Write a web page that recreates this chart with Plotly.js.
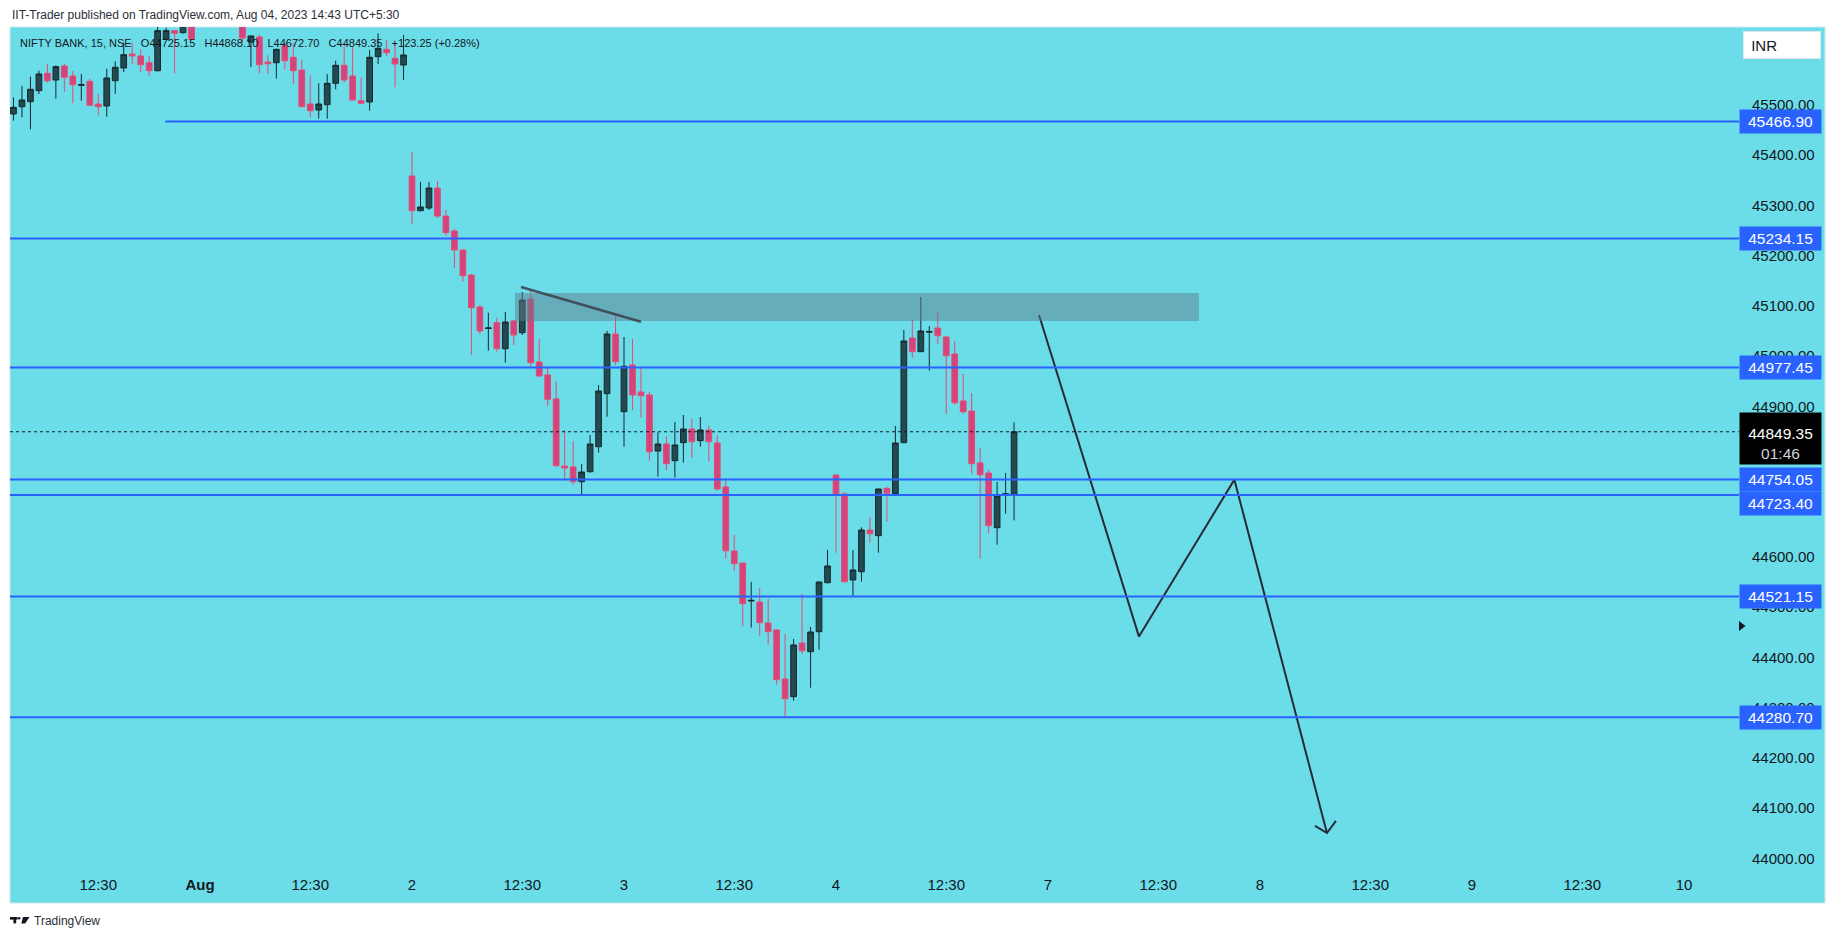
<!DOCTYPE html>
<html>
<head>
<meta charset="utf-8">
<script src="https://cdn.plot.ly/plotly-3.0.1.min.js"></script>
<style>
html,body{margin:0;padding:0;background:#ffffff;}
#chart{width:1835px;height:939px;}
</style>
</head>
<body>
<div id="chart"></div>
<script>
// ---------- DATA (NIFTY BANK, 15 min, NSE) ----------
// bar slots: Aug 1 09:15 = slot 0; first visible bar is Jul 31 10:00
const firstBar = -22;
const open = [
  45482.1,45496.6,45506.6,45528.5,45563.1,45549.8,45577.7,45557.7,45539.2,45547.2,
  45502.0,45498.0,45548.4,45573.7,45601.6,45597.6,45584.2,45568.3,45630.8,45648.0,
  45644.0,45675.0,
  45700,45760,45725,45705,45720,45672,45625.4,45635.4,45585.6,45584.2,
  45617.5,45595.0,45569.7,45502.0,45490.0,45500.6,45543.2,45579.1,45557.7,45508.6,
  45506.0,45596.2,45610.9,45593.0,45579.6,
  45358.6,45289.5,45294.9,45334.7,45278.9,45249.1,45211.3,45161.5,45097.8,45055.0,
  45066.5,45014.7,45069.9,45046.6,45113.7,44988.3,44962.4,44914.6,44781.2,44779.2,
  44749.9,44769.8,44819.6,44925.1,45044.0,
  44889.3,44982.3,44928.5,44922.6,44811.0,44824.9,44791.7,44827.6,44854.8,44831.6,
  44852.9,44826.9,44739.4,44611.9,44588.0,44512.4,44510.4,44468.6,44454.6,44357.0,
  44321.8,44428.7,44411.4,44451.2,44548.8,
  44763.2,44725.4,44554.2,44570.7,44653.7,44642.4,44736.8,44726.0,44827.6,45036.0,
  45008.8,45047.6,45055.9,45038.0,45004.2,44910.6,44890.7,44787.2,44767.2,44658.3,
  44723.0,44725.15
];
const high = [
  45515.3,45537.8,45556.4,45568.3,45581.6,45579.1,45581.6,45568.3,45561.7,45552.4,
  45521.9,45572.3,45587.0,45624.1,45624.1,45610.9,45597.6,45668,45654,45649,
  45690,45695,
  45790,45800,45750,45735,45730,45690,45638.5,45640,45599.0,45612.1,
  45625.4,45622.9,45589.6,45559.1,45543.2,45561.7,45588.2,45622.9,45616.1,45555.2,
  45609.5,45642.8,45629.4,45622.9,45639.4,
  45406.4,45346.7,45346.7,45348.7,45290.9,45253.1,45212.0,45163.5,45101.8,45086.4,
  45075.9,45087.8,45071.9,45127.6,45131.6,45034.0,44978.9,44950.4,44852.9,44830.9,
  44785.2,44842.9,44942.5,45050.0,45085.2,
  45038.0,45034.0,44977.7,44929.1,44848.3,44840.3,44868.8,44882.7,44874.8,44878.7,
  44861.4,44841.5,44756.7,44643.8,44588.5,44550.2,44538.2,44516.3,44455.5,44446.7,
  44436.7,44526.9,44460.6,44551.0,44613.9,
  44764.0,44729.4,44613.9,44659.1,44679.6,44736.0,44740.0,44860.8,45052.0,45071.9,
  45117.7,45060.0,45087.8,45040.0,45030.1,44964.4,44926.5,44817.0,44773.2,44749.3,
  44767.2,44868.10
];
const low = [
  45468.7,45475.5,45451.6,45521.9,45544.4,45512.5,45525.9,45503.4,45508.6,45498.6,
  45479.5,45476.7,45521.9,45565.7,45581.6,45565.7,45557.7,45567,45629,45563.1,
  45642,45628,
  45680,45710,45690,45672,45668,45623.5,45575.7,45562.3,45562.3,45552.4,
  45571.1,45541.8,45496.0,45475.5,45472.7,45472.7,45531.3,45544.4,45509.0,45502.0,
  45488.6,45581.6,45597.6,45535.2,45549.8,
  45263.0,45288.5,45290.9,45275.0,45239.2,45176.0,45148.1,45002.2,45044.0,45010.8,
  45008.8,44986.9,45022.1,45042.0,44977.7,44957.8,44900.6,44778.6,44751.9,44743.9,
  44721.4,44767.8,44807.7,44879.3,44982.3,
  44819.6,44892.7,44877.3,44791.7,44759.9,44773.2,44757.9,44787.7,44797.7,44819.6,
  44789.7,44732.0,44596.6,44572.7,44462.6,44459.2,44443.3,44425.4,44345.7,44280.7,
  44313.8,44406.8,44339.7,44415.4,44547.6,
  44608.5,44548.8,44520.9,44550.8,44628.4,44608.5,44670.3,44725.0,44826.5,44996.8,
  45008.0,44970.9,45024.1,44884.7,44902.6,44885.3,44765.8,44596.6,44646.4,44624.5,
  44686.2,44672.70
];
const close = [
  45495.4,45510.0,45531.3,45561.7,45548.4,45576.3,45555.2,45540.4,45540.4,45499.4,
  45496.6,45553.8,45575.1,45600.2,45597.6,45580.2,45568.3,45648.0,45648.0,45642.8,
  45672,45630.8,
  45760,45725,45705,45720,45685,45633.4,45637.4,45580.2,45582.2,45610.9,
  45588.2,45568.3,45496.6,45488.6,45502.0,45543.2,45579.1,45549.8,45510.0,45503.4,
  45595.0,45612.9,45604.1,45581.6,45599.6,
  45289.5,45296.9,45334.7,45278.9,45245.7,45211.3,45160.1,45096.4,45050.0,45056.0,
  45014.7,45067.9,45042.0,45111.7,44986.9,44960.4,44914.0,44781.8,44777.2,44749.9,
  44769.2,44824.9,44930.5,45044.0,44988.9,
  44979.7,44922.6,44921.2,44809.6,44824.9,44785.8,44823.0,44854.8,44829.6,44852.9,
  44829.6,44735.4,44612.5,44586.7,44507.0,44513.6,44469.2,44451.2,44355.6,44317.8,
  44424.8,44413.4,44450.6,44550.2,44582.1,
  44723.4,44550.8,44574.1,44653.7,44646.4,44735.4,44726.8,44826.9,45030.1,45008.8,
  45050.0,45049.0,45040.6,45000.8,44907.2,44889.3,44785.8,44763.8,44662.3,44721.4,
  44726.10,44849.35
];

// time axis
const tickPos  = [-12, 0, 13, 25, 38, 50, 63, 75, 88, 100, 113, 125, 138, 150, 163, 175];
const tickText = ['12:30','<b>Aug</b>','12:30','2','12:30','3','12:30','4','12:30','7','12:30','8','12:30','9','12:30','10'];
// price axis
const priceTicks = [44000,44100,44200,44300,44400,44500,44600,44700,44800,44900,45000,45100,45200,45300,45400,45500];

// drawn horizontal levels
const levels      = [45466.90, 45234.15, 44977.45, 44754.05, 44723.40, 44521.15, 44280.70];
const levelStart  = [-4.1, null, null, null, null, null, null];
const levelShift  = [0, 0, 0, 0, -8, 0, 0];

const countdown = '01:46';

// drawings (bar slot, price)
const zoneX  = [37.15, 117.8];
const zoneY  = [45069.9, 45125.7];
const trendX = [37.85, 52.0];
const trendY = [45137.6, 45068.5];
const pathX  = [98.94, 110.73, 121.98, 132.9];
const pathY  = [45081.8, 44441.5, 44754.0, 44050.4];
const headX  = [131.49, 132.9, 133.96];
const headY  = [44064.4, 44050.4, 44074.4];

const xRange = [-22.41, 181.49];
const yRange = [43976.7, 45655.3];

// ---------- LAYOUT HELPERS ----------
const W = 1835, H = 939, mL = 10, mR = 96, mT = 27, mB = 69;
const pw = W - mL - mR, ph = H - mT - mB;
const pxX = x => (x - mL) / pw;
const pxY = y => (H - mB - y) / ph;
const FONT = '"Liberation Sans", Arial, sans-serif';
const TXT = '#131722';
const BLUE = '#2962FF';

const barIdx = open.map((_, i) => firstBar + i);
const n = close.length;
const lastPrice = close[n - 1];
const chg = close[n - 1] - close[n - 2];
const chgPct = chg / close[n - 2] * 100;
const sp = '\u00A0\u00A0\u00A0';
const legendText = 'NIFTY BANK, 15, NSE' + sp + 'O' + open[n-1].toFixed(2) + sp + 'H' + high[n-1].toFixed(2) +
  sp + 'L' + low[n-1].toFixed(2) + sp + 'C' + close[n-1].toFixed(2) + sp +
  (chg >= 0 ? '+' : '') + chg.toFixed(2) + ' (' + (chg >= 0 ? '+' : '') + chgPct.toFixed(2) + '%)';

// ---------- TRACES ----------
const traces = [
  {
    type: 'candlestick', x: barIdx, open: open, high: high, low: low, close: close,
    increasing: {line: {color: '#16292e', width: 1}, fillcolor: '#244A51'},
    decreasing: {line: {color: '#E54A72', width: 1}, fillcolor: '#D5437D'},
    whiskerwidth: 0, hoverinfo: 'skip', showlegend: false
  },
  {
    type: 'scatter', mode: 'lines', x: pathX, y: pathY,
    line: {color: '#262b35', width: 2}, hoverinfo: 'skip', showlegend: false
  },
  {
    type: 'scatter', mode: 'lines', x: headX, y: headY,
    line: {color: '#262b35', width: 2}, hoverinfo: 'skip', showlegend: false
  }
];

// ---------- SHAPES ----------
const shapes = [];
shapes.push({type: 'rect', xref: 'paper', yref: 'paper', x0: 0, x1: pxX(1825), y0: pxY(903), y1: 1,
  fillcolor: '#6BDDE9', line: {color: '#cfe9ee', width: 1}, layer: 'below'});
shapes.push({type: 'rect', xref: 'x', yref: 'y', x0: zoneX[0], x1: zoneX[1], y0: zoneY[0], y1: zoneY[1],
  fillcolor: 'rgba(96,125,139,0.5)', line: {width: 0}, layer: 'above'});
shapes.push({type: 'line', xref: 'x', yref: 'y', x0: trendX[0], x1: trendX[1], y0: trendY[0], y1: trendY[1],
  line: {color: 'rgba(58,62,74,0.85)', width: 2.5}, layer: 'above'});
levels.forEach((v, i) => {
  shapes.push({type: 'line', xref: 'x', yref: 'y',
    x0: levelStart[i] === null ? xRange[0] : levelStart[i], x1: xRange[1], y0: v, y1: v,
    line: {color: BLUE, width: 2}, layer: 'above'});
});
shapes.push({type: 'line', xref: 'x', yref: 'y', x0: xRange[0], x1: xRange[1], y0: lastPrice, y1: lastPrice,
  line: {color: TXT, width: 1, dash: 'dot'}, layer: 'above'});
// small marker on price scale
shapes.push({type: 'path', xref: 'paper', yref: 'paper',
  path: 'M ' + pxX(1739) + ' ' + pxY(621) + ' L ' + pxX(1745.5) + ' ' + pxY(626) + ' L ' + pxX(1739) + ' ' + pxY(631) + ' Z',
  fillcolor: TXT, line: {width: 0}});
// TradingView logo
shapes.push({type: 'rect', xref: 'paper', yref: 'paper', x0: pxX(10), x1: pxX(17.5), y0: pxY(919.6), y1: pxY(917),
  fillcolor: TXT, line: {width: 0}});
shapes.push({type: 'rect', xref: 'paper', yref: 'paper', x0: pxX(13.4), x1: pxX(16.2), y0: pxY(923.4), y1: pxY(917),
  fillcolor: TXT, line: {width: 0}});
shapes.push({type: 'circle', xref: 'paper', yref: 'paper', x0: pxX(17.8), x1: pxX(20.4), y0: pxY(919.6), y1: pxY(917),
  fillcolor: TXT, line: {width: 0}});
shapes.push({type: 'path', xref: 'paper', yref: 'paper',
  path: 'M ' + pxX(23) + ' ' + pxY(917) + ' L ' + pxX(29.5) + ' ' + pxY(917) + ' L ' + pxX(25.2) + ' ' + pxY(923.4) + ' L ' + pxX(21.3) + ' ' + pxY(923.4) + ' Z',
  fillcolor: TXT, line: {width: 0}});

// ---------- ANNOTATIONS ----------
const annotations = [];
annotations.push({xref: 'paper', yref: 'paper', x: pxX(10), y: pxY(15), xanchor: 'left', yanchor: 'middle',
  text: 'IIT-Trader published on TradingView.com, Aug 04, 2023 14:43 UTC+5:30', showarrow: false,
  font: {family: FONT, size: 12, color: '#2a2e39'}});
annotations.push({xref: 'paper', yref: 'paper', x: pxX(18), y: pxY(42.7), xanchor: 'left', yanchor: 'middle',
  text: legendText, showarrow: false, font: {family: FONT, size: 11, color: TXT}});
annotations.push({xref: 'paper', yref: 'paper', x: pxX(32), y: pxY(921), xanchor: 'left', yanchor: 'middle',
  text: 'TradingView', showarrow: false, font: {family: FONT, size: 12, color: '#2a2e39'}});
annotations.push({xref: 'paper', yref: 'paper', x: pxX(1743), y: pxY(31), xanchor: 'left', yanchor: 'top',
  text: '\u00A0INR', showarrow: false, align: 'left', width: 70, height: 20, borderpad: 3,
  bgcolor: '#ffffff', bordercolor: '#e0e3eb', borderwidth: 1, font: {family: FONT, size: 15, color: TXT}});
levels.forEach((v, i) => {
  annotations.push({xref: 'paper', yref: 'y', x: 1, y: v, xanchor: 'left', yanchor: 'middle', yshift: levelShift[i],
    text: v.toFixed(2), showarrow: false, align: 'center', width: 77, height: 19, borderpad: 2,
    bgcolor: BLUE, font: {family: FONT, size: 15.5, color: '#ffffff'}});
});
annotations.push({xref: 'paper', yref: 'y', x: 1, y: lastPrice, xanchor: 'left', yanchor: 'top', yshift: 20,
  text: lastPrice.toFixed(2) + '<br><span style="color:#d1d4dc">' + countdown + '</span>', showarrow: false,
  align: 'center', valign: 'bottom', width: 77, height: 47, borderpad: 2,
  bgcolor: '#000000', font: {family: FONT, size: 15.5, color: '#ffffff'}});

// ---------- LAYOUT ----------
const layout = {
  width: W, height: H, autosize: false,
  margin: {l: mL, r: mR, t: mT, b: mB, pad: 0},
  paper_bgcolor: '#ffffff', plot_bgcolor: 'rgba(0,0,0,0)',
  showlegend: false, hovermode: false, dragmode: false,
  boxgap: 0.2, boxgroupgap: 0.16,
  xaxis: {
    type: 'linear', range: xRange, rangeslider: {visible: false},
    showgrid: false, zeroline: false, showline: false,
    tickmode: 'array', tickvals: tickPos, ticktext: tickText,
    ticks: 'outside', ticklen: 1, tickcolor: 'rgba(0,0,0,0)',
    tickfont: {family: FONT, size: 15, color: TXT}, fixedrange: true
  },
  yaxis: {
    type: 'linear', range: yRange, side: 'right',
    showgrid: false, zeroline: false, showline: false,
    tickmode: 'array', tickvals: priceTicks, ticktext: priceTicks.map(v => v.toFixed(2)),
    ticks: 'outside', ticklen: 9, tickcolor: 'rgba(0,0,0,0)',
    tickfont: {family: FONT, size: 15, color: TXT}, fixedrange: true
  },
  shapes: shapes,
  annotations: annotations
};

Plotly.newPlot('chart', traces, layout, {staticPlot: true, displayModeBar: false});
</script>
</body>
</html>
